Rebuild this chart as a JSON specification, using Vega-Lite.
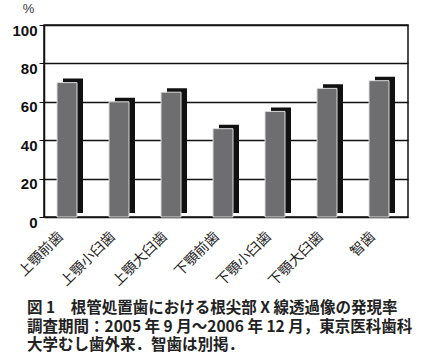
{
  "$schema": "https://vega.github.io/schema/vega-lite/v6.json",
  "autosize": "none",
  "width": 364,
  "height": 192,
  "padding": {"left": 44, "top": 25, "right": 24, "bottom": 147},
  "background": "white",
  "config": {
    "view": {"stroke": "#111", "strokeWidth": 1.5},
    "font": "Noto Sans CJK JP"
  },
  "title": {
    "text": ["図 1　根管処置歯における根尖部 X 線透過像の発現率", "調査期間：2005 年 9 月～2006 年 12 月，東京医科歯科", "大学むし歯外来．智歯は別掲．"],
    "orient": "bottom",
    "anchor": "start",
    "frame": "group",
    "dx": -17,
    "offset": 13,
    "font": "Noto Sans CJK JP",
    "fontSize": 15.5,
    "fontWeight": "bold",
    "lineHeight": 18.5,
    "color": "#222"
  },
  "data": {
    "values": [
      {"tooth": "上顎前歯", "rate": 70},
      {"tooth": "上顎小臼歯", "rate": 60},
      {"tooth": "上顎大臼歯", "rate": 65},
      {"tooth": "下顎前歯", "rate": 46},
      {"tooth": "下顎小臼歯", "rate": 55},
      {"tooth": "下顎大臼歯", "rate": 67},
      {"tooth": "智歯", "rate": 71}
    ]
  },
  "encoding": {
    "x": {
      "field": "tooth",
      "type": "nominal",
      "sort": null,
      "scale": {"paddingInner": 0.6, "paddingOuter": 0.3},
      "axis": {
        "title": null,
        "domain": false,
        "ticks": false,
        "labelAngle": -45,
        "labelAlign": "right",
        "labelBaseline": "middle",
        "labelPadding": 17,
        "labelOffset": -9,
        "labelFont": "Noto Sans CJK JP",
        "labelFontSize": 14,
        "labelColor": "#222"
      }
    },
    "y": {
      "field": "rate",
      "type": "quantitative",
      "scale": {"domain": [0, 100]},
      "axis": {
        "values": [0, 20, 40, 60, 80, 100],
        "grid": true,
        "gridColor": "#111",
        "gridWidth": 1.5,
        "gridOpacity": 1,
        "domainColor": "#111",
        "domainWidth": 1.5,
        "tickColor": "#111",
        "tickSize": 5,
        "labelFont": "Liberation Sans",
        "labelFontWeight": "bold",
        "labelFontSize": 15,
        "labelColor": "#111",
        "labelPadding": 2,
        "labelOffset": 5,
        "title": "%",
        "titleAngle": 0,
        "titleX": -16,
        "titleY": -10,
        "titleFont": "Liberation Sans",
        "titleFontWeight": "normal",
        "titleFontSize": 13,
        "titleColor": "#333"
      }
    }
  },
  "layer": [
    {
      "mark": {"type": "bar", "width": 20, "color": "#111", "xOffset": 3, "yOffset": -4, "y2Offset": 0}
    },
    {
      "mark": {"type": "bar", "width": 20, "color": "#6e6e71", "stroke": "#ddd", "strokeWidth": 1, "xOffset": -3}
    }
  ]
}
